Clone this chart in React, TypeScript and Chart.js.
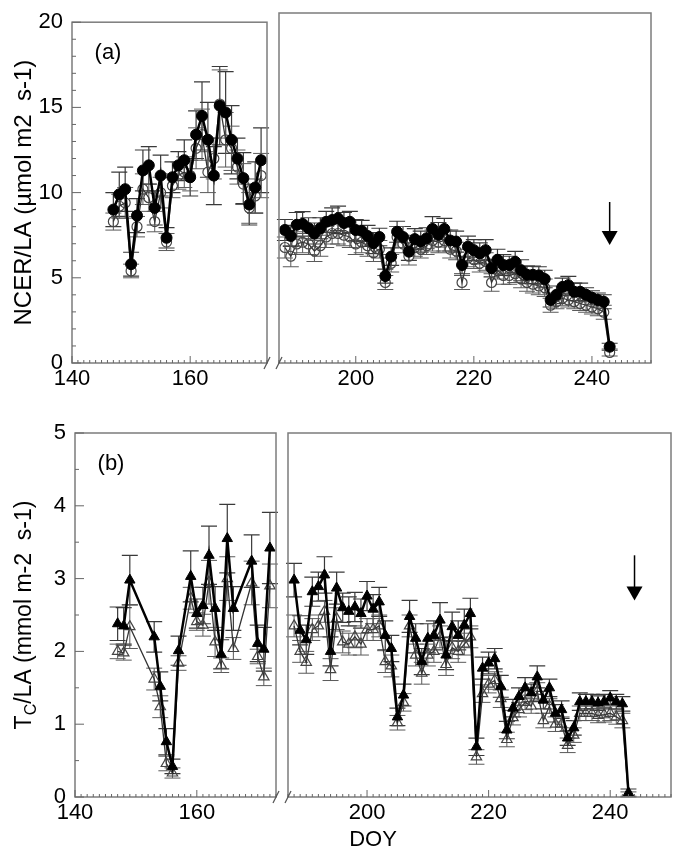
import React, { useEffect, useRef } from "react";
import { Chart, registerables } from "chart.js";
Chart.register(...registerables);

// ---------- DATA ----------
// Panel (a) NCER/LA, left segment
const aLeftDays = [147, 148, 149, 150, 151, 152, 153, 154, 155, 156, 157, 158, 159, 160, 161, 162, 163, 164, 165, 166, 167, 168, 169, 170, 171, 172];
const aLeftFilled = [9.0, 9.9, 10.2, 5.8, 8.65, 11.3, 11.6, 9.1, 11.0, 7.35, 10.9, 11.6, 11.9, 10.9, 13.4, 14.5, 13.1, 11.0, 15.1, 14.7, 13.1, 12.0, 10.85, 9.3, 10.3, 11.9];
const aLeftFilledErr = [1.0, 1.3, 1.3, 0.7, 1.0, 1.2, 1.1, 1.0, 1.2, 0.6, 0.9, 0.8, 1.2, 1.1, 1.4, 2.0, 2.2, 1.7, 2.3, 2.4, 2.0, 1.2, 1.5, 1.2, 1.5, 1.9];
const aLeftOpen = [8.3, 9.2, 9.4, 5.4, 8.0, 10.2, 9.7, 8.3, 10.0, 7.1, 10.4, 11.0, 11.2, 11.0, 12.6, 13.4, 11.2, 12.0, 15.2, 13.1, 12.6, 11.5, 10.5, 9.1, 9.8, 11.0];
const aLeftOpenErr = [0.5, 0.7, 0.9, 0.4, 0.6, 0.9, 0.8, 0.6, 0.9, 0.5, 0.7, 0.8, 0.9, 0.9, 1.2, 1.5, 1.2, 1.2, 2.0, 1.6, 1.3, 1.0, 1.2, 0.9, 1.0, 1.3];

// Panel (a) right segment
const rightDays = [188, 189, 190, 191, 192, 193, 194, 195, 196, 197,
  198, 199, 200, 201, 202, 203, 204, 205, 206, 207,
  208, 209, 210, 211, 212, 213, 214, 215, 216, 217,
  218, 219, 220, 221, 222, 223, 224, 225, 226, 227,
  228, 229, 230, 231, 232, 233, 234, 235, 236, 237,
  238, 239, 240, 241, 242, 243];
const aRightFilled = [7.6, 7.26, 7.9, 7.95, 7.7, 7.4, 7.7, 8.07, 8.17, 8.27,
  8.0, 8.07, 7.6, 7.55, 7.26, 6.85, 7.2, 4.97, 6.08, 7.5,
  7.2, 6.36, 7.08, 6.94, 7.13, 7.66, 7.33, 7.66, 7.0, 6.94,
  5.6, 6.65, 6.45, 6.27, 6.45, 5.42, 5.9, 5.6, 5.6, 5.78,
  5.3, 5.04, 5.04, 5.0, 4.8, 3.6, 3.9, 4.35, 4.45, 4.07,
  4.07, 3.9, 3.73, 3.6, 3.5, 0.93];
const aRightFilledErr = [0.6, 0.6, 0.7, 0.7, 0.6, 0.6, 0.6, 0.6, 0.7, 0.7,
  0.6, 0.6, 0.6, 0.6, 0.6, 0.6, 0.5, 0.4, 0.5, 0.6,
  0.6, 0.5, 0.6, 0.6, 0.6, 0.7, 0.7, 0.6, 0.6, 0.6,
  0.5, 0.6, 0.6, 0.6, 0.6, 0.5, 0.6, 0.6, 0.5, 0.6,
  0.6, 0.5, 0.5, 0.5, 0.5, 0.4, 0.5, 0.5, 0.5, 0.5,
  0.5, 0.4, 0.4, 0.4, 0.4, 0.2];
const aRightOpen = [6.6, 6.1, 6.8, 6.9, 6.8, 6.4, 6.7, 7.2, 7.4, 7.4,
  7.3, 7.2, 6.8, 6.9, 6.7, 6.3, 6.5, 4.6, 5.7, 7.2,
  6.8, 6.1, 6.6, 6.5, 6.7, 7.0, 6.9, 7.0, 6.5, 6.4,
  4.6, 6.0, 5.9, 5.7, 5.8, 4.6, 5.3, 5.0, 5.0, 5.1,
  4.8, 4.6, 4.5, 4.4, 4.3, 3.3, 3.5, 3.7, 3.6, 3.5,
  3.4, 3.3, 3.2, 3.1, 2.9, 0.6];
const aRightOpenErr = [0.6, 0.6, 0.6, 0.6, 0.6, 0.6, 0.6, 0.6, 0.6, 0.6,
  0.6, 0.6, 0.6, 0.6, 0.6, 0.5, 0.5, 0.4, 0.5, 0.6,
  0.5, 0.5, 0.5, 0.5, 0.5, 0.6, 0.6, 0.6, 0.5, 0.5,
  0.4, 0.5, 0.5, 0.5, 0.5, 0.5, 0.5, 0.5, 0.5, 0.5,
  0.5, 0.5, 0.5, 0.5, 0.5, 0.4, 0.4, 0.4, 0.4, 0.4,
  0.4, 0.4, 0.4, 0.4, 0.4, 0.2];

// Panel (b) Tc/LA, left segment
const bLeftDays = [147, 148, 149, 153, 154, 155, 156, 157, 159, 160, 161, 162, 163, 164, 165, 166, 169, 170, 171, 172];
const bLeftFilled = [2.38, 2.35, 2.98, 2.2, 1.52, 0.76, 0.42, 2.01, 3.03, 2.52, 2.63, 3.32, 2.59, 1.96, 3.55, 2.59, 3.24, 2.11, 2.03, 3.42];
const bLeftFilledErr = [0.23, 0.25, 0.34, 0.21, 0.2, 0.18, 0.1, 0.2, 0.35, 0.2, 0.25, 0.4, 0.3, 0.2, 0.47, 0.3, 0.36, 0.25, 0.3, 0.49];
const bLeftOpen = [2.0, 1.98, 2.34, 1.62, 1.24, 0.46, 0.33, 1.84, 2.73, 2.41, 2.36, 2.95, 2.13, 1.81, 3.0, 2.04, 2.94, 1.93, 1.65, 2.9];
const bLeftOpenErr = [0.1, 0.1, 0.3, 0.15, 0.15, 0.1, 0.07, 0.1, 0.15, 0.12, 0.15, 0.3, 0.2, 0.1, 0.3, 0.15, 0.3, 0.1, 0.12, 0.3];

// Panel (b) right segment (same days as rightDays)
const bRightFilled = [2.98, 2.29, 2.16, 2.82, 2.89, 3.05, 2.0, 2.87, 2.6, 2.55,
  2.61, 2.52, 2.76, 2.58, 2.68, 2.22, 2.04, 1.1, 1.4, 2.48,
  2.18, 1.86, 2.18, 2.22, 2.43, 1.95, 2.34, 2.22, 2.36, 2.52,
  0.69, 1.77, 1.84, 1.9, 1.52, 0.92, 1.22, 1.38, 1.5, 1.43,
  1.65, 1.33, 1.5, 1.15, 1.2, 0.81, 0.95, 1.31, 1.31, 1.31,
  1.29, 1.31, 1.36, 1.31, 1.28, 0.06];
const bRightFilledErr = [0.23, 0.2, 0.2, 0.2, 0.2, 0.25, 0.2, 0.22, 0.2, 0.2,
  0.2, 0.2, 0.2, 0.2, 0.2, 0.2, 0.18, 0.12, 0.15, 0.22,
  0.2, 0.18, 0.2, 0.2, 0.24, 0.2, 0.2, 0.2, 0.22, 0.21,
  0.12, 0.15, 0.15, 0.14, 0.15, 0.12, 0.12, 0.12, 0.14, 0.12,
  0.15, 0.12, 0.12, 0.12, 0.12, 0.1, 0.1, 0.12, 0.1, 0.1,
  0.1, 0.1, 0.1, 0.1, 0.1, 0.05];
const bRightOpen = [2.35, 2.0, 1.85, 2.3, 2.35, 2.55, 1.75, 2.45, 2.13, 2.1,
  2.2, 2.1, 2.3, 2.3, 2.35, 1.86, 1.8, 1.02, 1.3, 2.35,
  1.95, 1.7, 1.95, 2.0, 2.2, 1.82, 2.05, 2.0, 2.1, 2.2,
  0.55, 1.42, 1.55, 1.6, 1.35, 0.79, 1.09, 1.2, 1.3, 1.25,
  1.45, 1.05, 1.25, 1.0, 1.0, 0.71, 0.85, 1.15, 1.15, 1.15,
  1.12, 1.13, 1.15, 1.1, 1.05, 0.02];
const bRightOpenErr = [0.15, 0.15, 0.15, 0.15, 0.15, 0.15, 0.15, 0.15, 0.15, 0.15,
  0.15, 0.15, 0.15, 0.15, 0.15, 0.15, 0.15, 0.1, 0.12, 0.15,
  0.15, 0.15, 0.15, 0.15, 0.15, 0.15, 0.15, 0.15, 0.15, 0.15,
  0.1, 0.12, 0.12, 0.12, 0.12, 0.1, 0.1, 0.1, 0.1, 0.1,
  0.12, 0.1, 0.1, 0.1, 0.1, 0.1, 0.1, 0.1, 0.1, 0.1,
  0.1, 0.1, 0.1, 0.1, 0.1, 0.05];

// Axes
const xLeftRange = [140, 173];
const xRightRange = [187, 250];
const xLeftTicks = [140, 160];
const xRightTicks = [200, 220, 240];
const yTicksA = [0, 5, 10, 15, 20];
const yTicksB = [0, 1, 2, 3, 4, 5];

// Arrows (DOY, from value, to value)
const arrowDays = [243, 244];
const arrowFrom = [9.2, 3.32];
const arrowTo = [6.75, 2.7];

// ---------- RENDER ----------
const FONT = "'Liberation Sans', Arial, sans-serif";
const W = 675;
const H = 854;
const XAXIS_H = 40;

type Area = { left: number; right: number; top: number; bottom: number };
type TitlePart = { t: string; sub?: boolean };

interface Spec {
  area: Area;
  xRange: number[];
  xTicks: number[];
  yTicks: number[];
  yMinor: number;
  showY: boolean;
  breakSide: "left" | "right";
  datasets: any[];
  label?: string;
  title?: TitlePart[];
  titleSize?: number;
  arrow?: { day: number; from: number; to: number };
  doy?: { x: number; y: number };
}

const xy = (days: number[], vals: number[]) => days.map((d, i) => ({ x: d, y: vals[i] }));

function filledSet(days: number[], vals: number[], errs: number[], style: string, r: number) {
  return {
    data: xy(days, vals),
    errors: errs,
    errorColor: "#3a3a3a",
    errorWidth: 1.2,
    borderColor: "#000",
    borderWidth: 2.5,
    pointStyle: style,
    pointRadius: r,
    pointBackgroundColor: "#000",
    pointBorderColor: "#000",
    pointBorderWidth: 1,
    tension: 0,
  };
}
function openSet(days: number[], vals: number[], errs: number[], style: string, r: number) {
  return {
    data: xy(days, vals),
    errors: errs,
    errorColor: "#5a5a5a",
    errorWidth: 1,
    borderColor: "#333",
    borderWidth: 1.3,
    pointStyle: style,
    pointRadius: r,
    pointBackgroundColor: "rgba(255,255,255,0)",
    pointBorderColor: "#444",
    pointBorderWidth: 1.2,
    tension: 0,
  };
}

const areaAL: Area = { left: 72, right: 267, top: 13, bottom: 363 };
const areaAR: Area = { left: 279, right: 651, top: 13, bottom: 363 };
const areaBL: Area = { left: 75, right: 276, top: 433, bottom: 797 };
const areaBR: Area = { left: 288, right: 671, top: 433, bottom: 797 };

const specs: Spec[] = [
  {
    area: areaAL, xRange: xLeftRange, xTicks: xLeftTicks, yTicks: yTicksA, yMinor: 1, showY: true, breakSide: "right",
    datasets: [filledSet(aLeftDays, aLeftFilled, aLeftFilledErr, "circle", 5.5), openSet(aLeftDays, aLeftOpen, aLeftOpenErr, "circle", 5)],
    label: "(a)",
    title: [{ t: "NCER/LA (\u00b5mol m2  s-1)" }],
    titleSize: 24,
  },
  {
    area: areaAR, xRange: xRightRange, xTicks: xRightTicks, yTicks: yTicksA, yMinor: 1, showY: false, breakSide: "left",
    datasets: [filledSet(rightDays, aRightFilled, aRightFilledErr, "circle", 5.5), openSet(rightDays, aRightOpen, aRightOpenErr, "circle", 5)],
    arrow: { day: arrowDays[0], from: arrowFrom[0], to: arrowTo[0] },
  },
  {
    area: areaBL, xRange: xLeftRange, xTicks: xLeftTicks, yTicks: yTicksB, yMinor: 0.5, showY: true, breakSide: "right",
    datasets: [filledSet(bLeftDays, bLeftFilled, bLeftFilledErr, "triangle", 6), openSet(bLeftDays, bLeftOpen, bLeftOpenErr, "triangle", 6)],
    label: "(b)",
    title: [{ t: "T" }, { t: "C", sub: true }, { t: "/LA (mmol m-2  s-1)" }],
    titleSize: 23,
    doy: { x: (areaBL.left + areaBR.right) / 2, y: 840 },
  },
  {
    area: areaBR, xRange: xRightRange, xTicks: xRightTicks, yTicks: yTicksB, yMinor: 0.5, showY: false, breakSide: "left",
    datasets: [filledSet(rightDays, bRightFilled, bRightFilledErr, "triangle", 6), openSet(rightDays, bRightOpen, bRightOpenErr, "triangle", 6)],
    arrow: { day: arrowDays[1], from: arrowFrom[1], to: arrowTo[1] },
  },
];

function buildConfig(s: Spec): any {
  const yWidth = s.showY ? s.area.left : 0;
  const padding = {
    left: s.showY ? 0 : s.area.left,
    right: W - s.area.right,
    top: s.area.top,
    bottom: H - s.area.bottom - XAXIS_H,
  };
  const yMin = s.yTicks[0];
  const yMax = s.yTicks[s.yTicks.length - 1];

  const decor = {
    id: "decor",
    beforeDatasetsDraw(chart: any) {
      const ctx = chart.ctx;
      const xs = chart.scales.x;
      const ys = chart.scales.y;
      chart.data.datasets.forEach((ds: any) => {
        if (!ds.errors) return;
        ctx.save();
        ctx.strokeStyle = ds.errorColor;
        ctx.lineWidth = ds.errorWidth;
        ds.data.forEach((p: any, j: number) => {
          const e = ds.errors[j];
          if (e == null) return;
          const x = xs.getPixelForValue(p.x);
          const y1 = ys.getPixelForValue(p.y + e);
          const y2 = ys.getPixelForValue(Math.max(p.y - e, yMin));
          ctx.beginPath();
          ctx.moveTo(x, y1);
          ctx.lineTo(x, y2);
          ctx.moveTo(x - 8, y1);
          ctx.lineTo(x + 8, y1);
          ctx.moveTo(x - 8, y2);
          ctx.lineTo(x + 8, y2);
          ctx.stroke();
        });
        ctx.restore();
      });
    },
    afterDraw(chart: any) {
      const ctx = chart.ctx;
      const a = chart.chartArea;
      const xs = chart.scales.x;
      const ys = chart.scales.y;
      ctx.save();
      // frame
      ctx.strokeStyle = "#7c7c7c";
      ctx.lineWidth = 1.5;
      ctx.strokeRect(a.left, a.top, a.right - a.left, a.bottom - a.top);
      // x ticks (inward)
      ctx.lineWidth = 1;
      ctx.strokeStyle = "#666";
      ctx.beginPath();
      for (let v = Math.ceil(s.xRange[0]); v <= s.xRange[1]; v++) {
        const x = xs.getPixelForValue(v);
        const len = s.xTicks.includes(v) ? 7 : 3;
        ctx.moveTo(x, a.bottom);
        ctx.lineTo(x, a.bottom - len);
      }
      ctx.stroke();
      // y ticks
      if (s.showY) {
        ctx.beginPath();
        const n = Math.round((yMax - yMin) / s.yMinor);
        for (let i = 0; i <= n; i++) {
          const v = yMin + i * s.yMinor;
          const y = ys.getPixelForValue(v);
          const major = s.yTicks.some((t) => Math.abs(t - v) < 1e-6);
          ctx.moveTo(a.left, y);
          ctx.lineTo(a.left + (major ? 9 : 4), y);
        }
        ctx.stroke();
      }
      // axis break slash
      const bx = s.breakSide === "right" ? a.right : a.left;
      ctx.strokeStyle = "#555";
      ctx.lineWidth = 1.3;
      ctx.beginPath();
      ctx.moveTo(bx - 3, a.bottom + 6);
      ctx.lineTo(bx + 3, a.bottom - 6);
      ctx.stroke();
      // panel label
      if (s.label) {
        ctx.fillStyle = "#000";
        ctx.font = `22px ${FONT}`;
        ctx.textAlign = "center";
        ctx.textBaseline = "middle";
        ctx.fillText(s.label, a.left + 36, a.top + 31);
      }
      // arrow
      if (s.arrow) {
        const x = xs.getPixelForValue(s.arrow.day);
        const yTop = ys.getPixelForValue(s.arrow.from);
        const yTip = ys.getPixelForValue(s.arrow.to);
        ctx.strokeStyle = "#000";
        ctx.fillStyle = "#000";
        ctx.lineWidth = 1.5;
        ctx.beginPath();
        ctx.moveTo(x, yTop);
        ctx.lineTo(x, yTip - 12);
        ctx.stroke();
        ctx.beginPath();
        ctx.moveTo(x - 8, yTip - 14);
        ctx.lineTo(x + 8, yTip - 14);
        ctx.lineTo(x, yTip);
        ctx.closePath();
        ctx.fill();
      }
      // y title (rotated, with optional subscript)
      if (s.title) {
        const size = s.titleSize || 24;
        const subSize = Math.round(size * 0.7);
        const fontN = `${size}px ${FONT}`;
        const fontS = `${subSize}px ${FONT}`;
        let total = 0;
        const widths = s.title.map((p) => {
          ctx.font = p.sub ? fontS : fontN;
          const w = ctx.measureText(p.t).width;
          total += w;
          return w;
        });
        ctx.translate(23, (a.top + a.bottom) / 2);
        ctx.rotate(-Math.PI / 2);
        ctx.fillStyle = "#000";
        ctx.textAlign = "left";
        ctx.textBaseline = "alphabetic";
        let cx = -total / 2;
        const base = size * 0.35;
        s.title.forEach((p, i) => {
          ctx.font = p.sub ? fontS : fontN;
          ctx.fillText(p.t, cx, base + (p.sub ? size * 0.22 : 0));
          cx += widths[i];
        });
        ctx.setTransform(1, 0, 0, 1, 0, 0);
      }
      if (s.doy) {
        ctx.fillStyle = "#000";
        ctx.font = `22px ${FONT}`;
        ctx.textAlign = "center";
        ctx.textBaseline = "middle";
        ctx.fillText("DOY", s.doy.x, s.doy.y);
      }
      ctx.restore();
    },
  };

  return {
    type: "line",
    data: { datasets: s.datasets },
    options: {
      animation: false,
      responsive: false,
      maintainAspectRatio: false,
      layout: { padding, autoPadding: false },
      plugins: { legend: { display: false }, tooltip: { enabled: false } },
      elements: { line: { fill: false } },
      scales: {
        x: {
          type: "linear",
          min: s.xRange[0],
          max: s.xRange[1],
          grid: { display: false, drawTicks: false },
          border: { display: false },
          afterBuildTicks: (sc: any) => {
            sc.ticks = s.xTicks.map((v) => ({ value: v }));
          },
          afterFit: (sc: any) => {
            sc.height = XAXIS_H;
          },
          ticks: {
            color: "#000",
            font: { family: FONT, size: 22 },
            padding: 3,
            maxRotation: 0,
            minRotation: 0,
            autoSkip: false,
            callback: (v: any) => String(v),
          },
        },
        y: {
          type: "linear",
          display: s.showY,
          min: yMin,
          max: yMax,
          grid: { display: false, drawTicks: false },
          border: { display: false },
          afterBuildTicks: (sc: any) => {
            sc.ticks = s.yTicks.map((v) => ({ value: v }));
          },
          afterFit: (sc: any) => {
            sc.width = yWidth;
          },
          ticks: {
            color: "#000",
            font: { family: FONT, size: 22 },
            padding: 9,
            autoSkip: false,
            callback: (v: any) => String(v),
          },
        },
      },
    },
    plugins: [decor],
  };
}

export default function App() {
  const canvases = useRef<(HTMLCanvasElement | null)[]>([]);
  useEffect(() => {
    const charts = specs.map((s, i) => new Chart(canvases.current[i] as HTMLCanvasElement, buildConfig(s)));
    return () => charts.forEach((c) => c.destroy());
  }, []);
  return (
    <div style={{ position: "absolute", left: 0, top: 0, width: W, height: H, background: "#fff", overflow: "hidden" }}>
      {specs.map((_, i) => (
        <canvas
          key={i}
          ref={(el) => {
            canvases.current[i] = el;
          }}
          width={W}
          height={H}
          style={{ position: "absolute", left: 0, top: 0, width: W, height: H }}
        />
      ))}
    </div>
  );
}
